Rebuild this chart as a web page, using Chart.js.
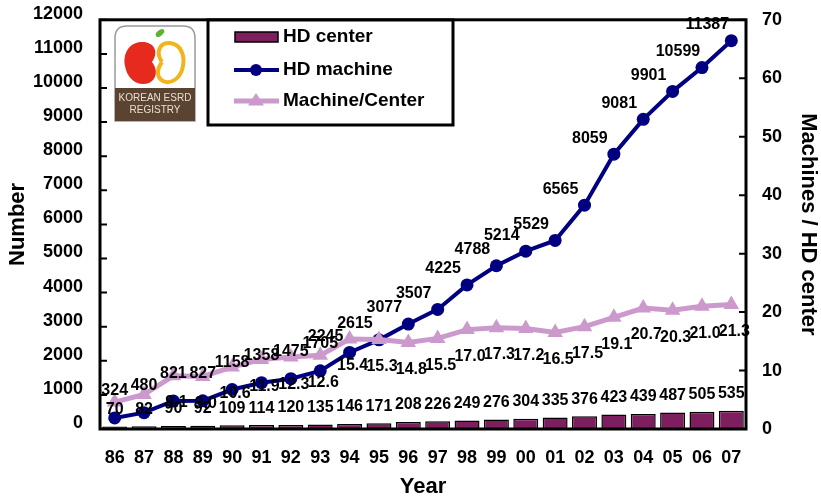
<!DOCTYPE html>
<html>
<head>
<meta charset="utf-8">
<script src="https://cdn.jsdelivr.net/npm/chart.js@4"></script>
<style>
  html, body { margin: 0; padding: 0; background: #fff; }
</style>
</head>
<body>
<canvas id="hd-chart" width="821" height="498"></canvas>
<script>
const years = ["86","87","88","89","90","91","92","93","94","95","96","97","98","99","00","01","02","03","04","05","06","07"];
const hdCenters = [70,82,90,92,109,114,120,135,146,171,208,226,249,276,304,335,376,423,439,487,505,535];
const hdMachines = [324,480,821,827,1158,1358,1475,1705,2245,2615,3077,3507,4225,4788,5214,5529,6565,8059,9081,9901,10599,11387];
const machinesPerCenter = [4.6,5.9,9.1,9.0,10.6,11.9,12.3,12.6,15.4,15.3,14.8,15.5,17.0,17.3,17.2,16.5,17.5,19.1,20.7,20.3,21.0,21.3];
const numberTicks = { min: 0, max: 12000, step: 1000 };
const ratioTicks = { min: 0, max: 70, step: 10 };

const FONT = "'Liberation Sans', Arial, sans-serif";
const centerColor = "#7d1f5e";
const machineColor = "#000080";
const ratioColor = "#cc99cc";

Chart.defaults.font.family = FONT;
Chart.defaults.color = "#000";

function triangle(ctx, x, y, r) {
  ctx.beginPath();
  ctx.moveTo(x, y - r);
  ctx.lineTo(x + r * 0.866 * 1.15, y + r * 0.5 * 1.15);
  ctx.lineTo(x - r * 0.866 * 1.15, y + r * 0.5 * 1.15);
  ctx.closePath();
  ctx.fill();
}

function drawLogo(ctx) {
  const x0 = 115, y0 = 26, x1 = 195, y1 = 121, r = 12;
  ctx.save();
  ctx.beginPath();
  ctx.moveTo(x0, y1);
  ctx.lineTo(x0, y0 + r);
  ctx.quadraticCurveTo(x0, y0, x0 + r, y0);
  ctx.lineTo(x1 - r, y0);
  ctx.quadraticCurveTo(x1, y0, x1, y0 + r);
  ctx.lineTo(x1, y1);
  ctx.closePath();
  ctx.fillStyle = "#fff";
  ctx.fill();
  ctx.strokeStyle = "#9a9a9a";
  ctx.lineWidth = 1.5;
  ctx.stroke();
  // soil band
  ctx.fillStyle = "#5b4332";
  ctx.fillRect(x0, 88, x1 - x0, y1 - 88);
  ctx.fillStyle = "#eadfcf";
  ctx.font = "10px " + FONT;
  ctx.textAlign = "center";
  ctx.textBaseline = "middle";
  ctx.fillText("KOREAN ESRD", 155, 98);
  ctx.fillText("REGISTRY", 155, 110);
  // red kidney
  ctx.beginPath();
  ctx.moveTo(152, 62);
  ctx.bezierCurveTo(160, 51, 153, 41, 141, 42);
  ctx.bezierCurveTo(127, 43, 123, 56, 125, 66);
  ctx.bezierCurveTo(127, 79, 138, 87, 149, 83);
  ctx.bezierCurveTo(157, 79, 158, 70, 152, 62);
  ctx.fillStyle = "#e62a1e";
  ctx.fill();
  // yellow kidney outline
  ctx.beginPath();
  ctx.moveTo(162, 62);
  ctx.bezierCurveTo(155, 52, 160, 42, 170, 43);
  ctx.bezierCurveTo(181, 44, 185, 56, 183, 66);
  ctx.bezierCurveTo(181, 78, 171, 85, 163, 81);
  ctx.bezierCurveTo(156, 77, 157, 69, 162, 62);
  ctx.strokeStyle = "#f3b41b";
  ctx.lineWidth = 4;
  ctx.stroke();
  // leaf
  ctx.beginPath();
  ctx.ellipse(160, 33, 5, 2.8, -0.7, 0, Math.PI * 2);
  ctx.fillStyle = "#5db331";
  ctx.fill();
  ctx.restore();
}

function drawLegend(ctx) {
  ctx.save();
  ctx.fillStyle = "#fff";
  ctx.fillRect(208, 20, 245, 105);
  ctx.strokeStyle = "#000";
  ctx.lineWidth = 3;
  ctx.strokeRect(208, 20, 245, 105);

  ctx.fillStyle = centerColor;
  ctx.fillRect(235, 32, 43, 10);
  ctx.lineWidth = 1.5;
  ctx.strokeRect(235, 32, 43, 10);

  ctx.strokeStyle = machineColor;
  ctx.lineWidth = 4;
  ctx.beginPath(); ctx.moveTo(234, 70); ctx.lineTo(279, 70); ctx.stroke();
  ctx.fillStyle = machineColor;
  ctx.beginPath(); ctx.arc(256, 70, 6, 0, Math.PI * 2); ctx.fill();

  ctx.strokeStyle = ratioColor;
  ctx.lineWidth = 5;
  ctx.beginPath(); ctx.moveTo(234, 101); ctx.lineTo(279, 101); ctx.stroke();
  ctx.fillStyle = ratioColor;
  triangle(ctx, 256, 101, 8);

  ctx.fillStyle = "#000";
  ctx.font = "bold 19px " + FONT;
  ctx.textAlign = "left";
  ctx.textBaseline = "middle";
  ctx.fillText("HD center", 283, 37);
  ctx.fillText("HD machine", 283, 70);
  ctx.fillText("Machine/Center", 283, 101);
  ctx.restore();
}

const decorations = {
  id: "decorations",
  afterDraw(chart) {
    const ctx = chart.ctx;
    const ca = chart.chartArea;
    const yL = chart.scales.y, yR = chart.scales.y1;

    // frame and inward ticks
    ctx.save();
    ctx.strokeStyle = "#000";
    ctx.lineWidth = 3;
    ctx.strokeRect(ca.left, ca.top, ca.right - ca.left, ca.bottom - ca.top);
    ctx.lineWidth = 2;
    ctx.beginPath();
    for (let v = numberTicks.min; v <= numberTicks.max; v += numberTicks.step) {
      const py = yL.getPixelForValue(v);
      ctx.moveTo(ca.left, py); ctx.lineTo(ca.left + 7, py);
    }
    for (let v = ratioTicks.min; v <= ratioTicks.max; v += ratioTicks.step) {
      const py = yR.getPixelForValue(v);
      ctx.moveTo(ca.right - 7, py); ctx.lineTo(ca.right, py);
    }
    ctx.stroke();

    // value labels
    ctx.fillStyle = "#000";
    ctx.font = "bold 16px " + FONT;
    ctx.textAlign = "center";
    ctx.textBaseline = "middle";
    const bars = chart.getDatasetMeta(0).data;
    const machines = chart.getDatasetMeta(1).data;
    const ratios = chart.getDatasetMeta(2).data;
    hdCenters.forEach((v, i) => {
      ctx.fillText(String(v), bars[i].x, bars[i].y - 17);
    });
    hdMachines.forEach((v, i) => {
      const p = machines[i];
      if (i < 8) ctx.fillText(String(v), p.x, p.y - 27);
      else ctx.fillText(String(v), p.x - 24, p.y - 16);
    });
    machinesPerCenter.forEach((v, i) => {
      const p = ratios[i];
      const ly = p.y + 27;
      if (ly > ca.bottom - 15) return;
      ctx.fillText(v.toFixed(1), p.x + 3, ly);
    });
    ctx.restore();

    drawLogo(ctx);
    drawLegend(ctx);
  }
};

new Chart(document.getElementById("hd-chart"), {
  type: "bar",
  data: {
    labels: years,
    datasets: [
      {
        type: "bar",
        label: "HD center",
        data: hdCenters,
        yAxisID: "y",
        backgroundColor: centerColor,
        borderColor: "#000",
        borderWidth: 1.5,
        barPercentage: 0.85,
        categoryPercentage: 1,
        order: 3
      },
      {
        type: "line",
        label: "HD machine",
        data: hdMachines,
        yAxisID: "y",
        borderColor: machineColor,
        backgroundColor: machineColor,
        borderWidth: 4,
        pointRadius: 6.5,
        pointBorderWidth: 0,
        tension: 0,
        order: 2
      },
      {
        type: "line",
        label: "Machine/Center",
        data: machinesPerCenter,
        yAxisID: "y1",
        borderColor: ratioColor,
        backgroundColor: ratioColor,
        borderWidth: 5,
        pointStyle: "triangle",
        pointRadius: 9,
        pointBorderWidth: 0,
        tension: 0,
        order: 1
      }
    ]
  },
  options: {
    responsive: false,
    animation: false,
    layout: { padding: { top: 19, left: 0, right: 0, bottom: 0 } },
    plugins: {
      legend: { display: false },
      tooltip: { enabled: false }
    },
    scales: {
      x: {
        grid: { display: false },
        border: { display: false },
        ticks: { font: { size: 18, weight: "bold" }, padding: 10, maxRotation: 0, autoSkip: false },
        title: { display: true, text: "Year", font: { size: 22, weight: "bold" }, padding: { top: 0, bottom: -2 } },
        afterFit: s => { s.height = 69; }
      },
      y: {
        position: "left",
        min: numberTicks.min,
        max: numberTicks.max,
        grid: { display: false },
        border: { display: false },
        ticks: { stepSize: numberTicks.step, font: { size: 18, weight: "bold" }, padding: 9, labelOffset: -6, callback: v => String(v) },
        title: { display: true, text: "Number", font: { size: 22, weight: "bold" }, padding: { top: 5, bottom: 0 } },
        afterFit: s => { s.width = 100; }
      },
      y1: {
        position: "right",
        min: ratioTicks.min,
        max: ratioTicks.max,
        grid: { display: false },
        border: { display: false },
        ticks: { stepSize: ratioTicks.step, font: { size: 18, weight: "bold" }, padding: 8, callback: v => String(v) },
        title: { display: true, text: "Machines / HD center", font: { size: 22, weight: "bold" }, padding: { top: 0, bottom: 0 } },
        afterFit: s => { s.width = 75; }
      }
    }
  },
  plugins: [decorations]
});
</script>
</body>
</html>
